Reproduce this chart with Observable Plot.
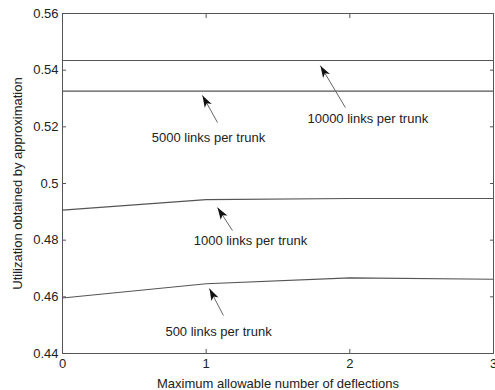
<!DOCTYPE html>
<html><head><meta charset="utf-8">
<script src="https://cdn.jsdelivr.net/npm/d3@7"></script>
<script src="https://cdn.jsdelivr.net/npm/@observablehq/plot@0.6"></script>
<style>html,body{margin:0;padding:0;background:#fff} svg{display:block}</style>
</head><body><div id="chart"></div>
<script>
// ---- data ----
const deflections = [0, 1, 2, 3];
const util10000 = [0.5434, 0.5434, 0.5434, 0.5434];
const util5000  = [0.5326, 0.5326, 0.5326, 0.5326];
const util1000  = [0.4906, 0.4943, 0.4947, 0.4947];
const util500   = [0.4596, 0.4646, 0.4667, 0.4662];
const seriesNames = ["10000 links per trunk", "5000 links per trunk", "1000 links per trunk", "500 links per trunk"];
const seriesValues = [util10000, util5000, util1000, util500];

const xTicks = [0, 1, 2, 3];
const xTickLabels = ["0", "1", "2", "3"];
const yTicks = [0.44, 0.46, 0.48, 0.5, 0.52, 0.54, 0.56];
const yTickLabels = ["0.44", "0.46", "0.48", "0.5", "0.52", "0.54", "0.56"];

// annotations (data coordinates)
const annTextX = [2.125, 1.016, 1.308, 1.086];
const annTextY = [0.5229, 0.5162, 0.4796, 0.4478];
const arrowTailX = [1.969, 1.079, 1.183, 1.120];
const arrowTailY = [0.5268, 0.5215, 0.4834, 0.4534];
const arrowTipX = [1.795, 0.974, 1.079, 1.023];
const arrowTipY = [0.5416, 0.5311, 0.4915, 0.4629];

// ---- tables built from arrays ----
const rows = seriesNames.flatMap((name, s) =>
  deflections.map((x, i) => ({series: name, x, y: seriesValues[s][i]})));
const ann = seriesNames.map((name, i) => ({
  label: name, tx: annTextX[i], ty: annTextY[i],
  x1: arrowTailX[i], y1: arrowTailY[i], x2: arrowTipX[i], y2: arrowTipY[i]
}));

const ink = "#222";

function arrows(data) {
  return Plot.link(data, {
    x1: "x1", y1: "y1", x2: "x2", y2: "y2",
    stroke: "#666", strokeWidth: 1,
    render(index, scales, values, dims, context, next) {
      const g = next(index, scales, values, dims, context);
      const {x1, y1, x2, y2} = values;
      const L = 12, W = 4, N = 9;
      for (const i of index) {
        const dx = x2[i] - x1[i], dy = y2[i] - y1[i];
        const len = Math.hypot(dx, dy);
        const ux = dx / len, uy = dy / len;
        const px = -uy, py = ux;
        const tx = x2[i], ty = y2[i];
        const bx = tx - ux * L, by = ty - uy * L;
        const nx = tx - ux * N, ny = ty - uy * N;
        const p = document.createElementNS("http://www.w3.org/2000/svg", "path");
        p.setAttribute("d", `M${tx},${ty}L${bx + px * W},${by + py * W}L${nx},${ny}L${bx - px * W},${by - py * W}Z`);
        p.setAttribute("fill", "#111");
        p.setAttribute("stroke", "none");
        g.appendChild(p);
      }
      return g;
    }
  });
}

const chart = Plot.plot({
  width: 495,
  height: 390,
  marginLeft: 62,
  marginRight: 2,
  marginTop: 13,
  marginBottom: 37,
  style: {fontFamily: "'Liberation Sans', Arial, sans-serif", fontSize: "13px", color: ink, background: "#fff"},
  x: {domain: [0, 3]},
  y: {domain: [0.44, 0.56]},
  marks: [
    Plot.frame({stroke: "#555", strokeWidth: 1}),
    // inward ticks on all four sides
    Plot.axisX(xTicks, {anchor: "bottom", tickSize: -4, tickFormat: () => "", label: null, stroke: "#555"}),
    Plot.axisX(xTicks, {anchor: "top", tickSize: -4, tickFormat: () => "", label: null, stroke: "#555"}),
    Plot.axisY(yTicks, {anchor: "left", tickSize: -4, tickFormat: () => "", label: null, stroke: "#555"}),
    Plot.axisY(yTicks, {anchor: "right", tickSize: -4, tickFormat: () => "", label: null, stroke: "#555"}),
    // tick labels and axis titles
    Plot.axisX(xTicks, {anchor: "bottom", tickSize: 0, tickPadding: 5,
      tickFormat: d => xTickLabels[xTicks.indexOf(d)], fill: ink,
      label: "Maximum allowable number of deflections", labelAnchor: "center", labelOffset: 34, labelArrow: "none"}),
    Plot.axisY(yTicks, {anchor: "left", tickSize: 0, tickPadding: 4,
      tickFormat: d => yTickLabels[yTicks.indexOf(d)], fill: ink,
      label: "Utilization obtained by approximation", labelAnchor: "center", labelOffset: 50, labelArrow: "none"}),
    Plot.line(rows, {x: "x", y: "y", z: "series", stroke: "#555", strokeWidth: 1.1}),
    arrows(ann),
    Plot.text(ann, {x: "tx", y: "ty", text: "label", fill: ink, fontSize: 13, textAnchor: "middle"})
  ]
});
document.getElementById("chart").appendChild(chart);
</script>
</body></html>
